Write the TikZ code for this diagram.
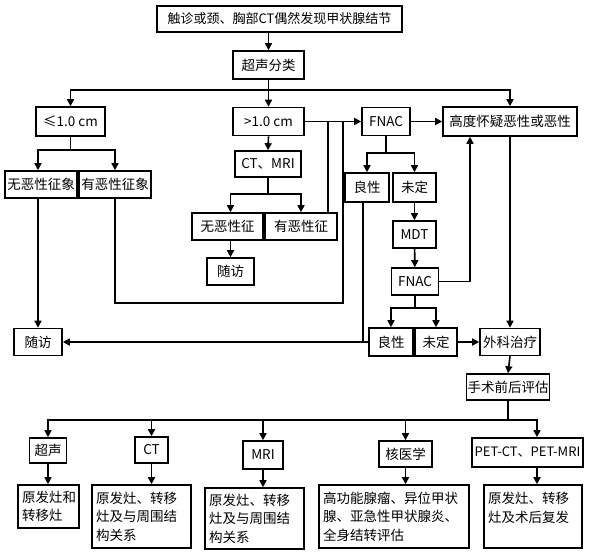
\documentclass[tikz,border=0pt]{standalone}
\usepackage{fontspec}
\setmainfont{Noto Sans CJK SC}
\usetikzlibrary{arrows.meta}

\begin{document}
\begin{tikzpicture}[x=1pt, y=-1pt, line width=1.6pt, >={Triangle[length=7pt,width=7pt]},
  every node/.style={font=\fontsize{13.5}{18.5}\selectfont},
  bx/.style 2 args={draw, inner sep=1pt, minimum width=#1pt, minimum height=#2pt},
  txt/.style 2 args={draw, align=left, inner xsep=4pt, inner ysep=2pt, text width=#1pt, minimum height=#2pt}]

\useasboundingbox (0,0) rectangle (592,558);

\node[bx={245}{26}, font=\fontsize{13}{16}\selectfont] (top) at (279.5,19) {触诊或颈、胸部CT偶然发现甲状腺结节};
\node[bx={71}{28}] (cs) at (268.5,65) {超声分类};
\node[bx={69}{29}] (le) at (70.5,121.5) {≤1.0 cm};
\node[bx={71}{28}] (gt) at (268.5,121.5) {>1.0 cm};
\node[bx={48}{28}] (fnaca) at (386,121.5) {FNAC};
\node[bx={134}{29}] (high) at (510,121.5) {高度怀疑恶性或恶性};

\node[bx={72}{27}] (no1) at (41,184.5) {无恶性征象};
\node[bx={72}{27}] (yes1) at (115,184.5) {有恶性征象};
\node[bx={48}{27}] (fu1) at (38,342) {随访};
\node[bx={66}{26}] (ct) at (268,164) {CT、MRI};
\node[bx={71}{27}] (no2) at (227.5,226.5) {无恶性征};
\node[bx={72}{27}] (yes2) at (301,226.5) {有恶性征};
\node[bx={47}{27}] (fu2) at (230.5,271.5) {随访};

\node[bx={44}{29}] (ben1) at (367,187.5) {良性};
\node[bx={43}{29}] (und1) at (414.5,187.5) {未定};
\node[bx={43}{27}] (mdt) at (414.5,234.5) {MDT};
\node[bx={47}{27}] (fnacb) at (415,281.5) {FNAC};
\node[bx={44}{28}] (ben2) at (391,342) {良性};
\node[bx={42}{28}] (und2) at (436,342) {未定};
\node[bx={60}{27}] (surg) at (510,342) {外科治疗};
\node[bx={83}{26}] (eval) at (508,387) {手术前后评估};

\node[bx={37}{25}] (h1) at (48,450.5) {超声};
\node[bx={33}{26}] (h2) at (151.5,450) {CT};
\node[bx={40}{28}] (h3) at (263,455) {MRI};
\node[bx={53}{26}] (h4) at (405.5,454) {核医学};
\node[bx={111}{29}, font=\fontsize{13}{16}\selectfont] (h5) at (527.5,452.5) {PET-CT、PET-MRI};

\node[txt={53}{43}] (d1) at (48.5,506.5) {原发灶和\\转移灶};
\node[txt={91}{63}] (d2) at (141.5,516.5) {原发灶、转移\\灶及与周围结\\构关系};
\node[txt={91}{61}] (d3) at (254.5,518.5) {原发灶、转移\\灶及与周围结\\构关系};
\node[txt={142}{63}] (d4) at (394,516.5) {高功能腺瘤、异位甲状\\腺、亚急性甲状腺炎、\\全身结转评估};
\node[txt={90}{63}] (d5) at (533,516.5) {原发灶、转移\\灶及术后复发\\~};

\coordinate (b1) at (268.5,90);
\coordinate (b2) at (70.5,150);
\coordinate (b3) at (268,194);
\coordinate (b4) at (386,153);
\coordinate (b5) at (415,308);
\coordinate (b6) at (508,420);
\coordinate (c2) at (343,303);
\coordinate (k1) at (328,0);
\coordinate (k3) at (363,0);
\coordinate (k4) at (470,0);
\coordinate (k5) at (537,0);

\draw[->] (cs.north |- top.south) -- (cs.north);
\draw (cs.south) -- (b1);
\draw[->] (b1) -| (le.north);
\draw[->] (b1) -- (gt.north);
\draw[->] (b1) -| (high.north);
\draw[->] (gt.east) -- (fnaca.west);
\draw[->] (fnaca.east) -- (high.west);

\draw (le.south) -- (b2);
\draw[->] (b2) -| (no1.north -| fu1.north);
\draw[->] (b2) -| (yes1.north);
\draw[->] (fu1.north |- no1.south) -- (fu1.north);
\draw (yes1.south) |- (c2) -- (c2 |- gt.east);

\draw[->] (gt.south) -- (ct.north);
\draw (ct.south) -- (b3);
\draw[->] (b3) -| (no2.north -| fu2.north);
\draw[->] (b3) -| (yes2.north);
\draw[->] (fu2.north |- no2.south) -- (fu2.north);
\draw (k1 |- yes2.north) -- (k1 |- gt.east);

\draw (fnaca.south) -- (b4);
\draw[->] (b4) -| (ben1.north);
\draw[->] (b4) -| (und1.north);
\draw[->] (und1) -- (mdt);
\draw[->] (mdt) -- (fnacb);
\draw[->] (fnacb.east) -| (k4 |- high.south);
\draw[->] (high.south) -- (surg.north);
\draw (fnacb.south) -- (b5);
\draw[->] (b5) -| (ben2.north);
\draw[->] (b5) -| (und2.north);
\draw[->] (und2.east) -- (surg.west);
\draw[->] (ben2.west) -- (fu1.east);
\draw (k3 |- ben1.south) -- (k3 |- ben2.west);

\draw[->] (surg.south) -- (eval.north);
\draw (eval.south) -- (b6);
\foreach \n in {h1,h2,h3,h4}
  \draw[->] (b6) -| (\n.north);
\draw[->] (b6) -| (k5 |- h5.north);
\foreach \n/\m in {h1/d1,h2/d2,h3/d3,h4/d4}
  \draw[->] (\n.south) -- (\n.south |- \m.north);
\draw[->] (k5 |- h5.south) -- (k5 |- d5.north);

\end{tikzpicture}
\end{document}
